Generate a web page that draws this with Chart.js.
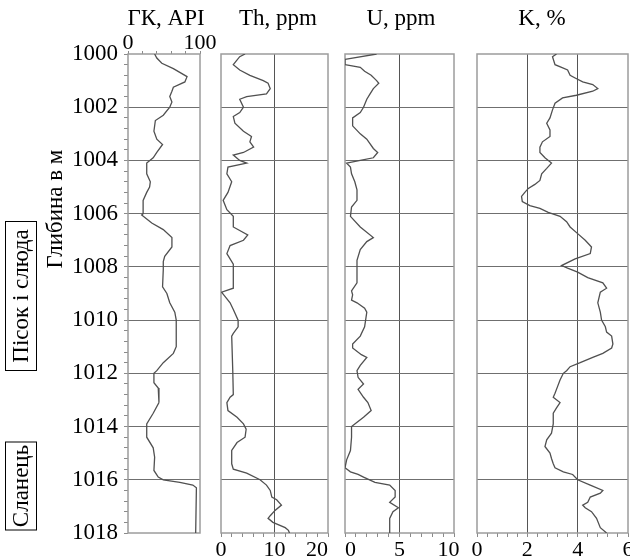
<!DOCTYPE html>
<html lang="uk">
<head>
<meta charset="utf-8">
<title>Каротажні діаграми</title>
<script src="https://cdn.jsdelivr.net/npm/chart.js@4.4.1/dist/chart.umd.min.js"></script>
<style>
  html, body { margin: 0; padding: 0; background: #fff; overflow: hidden; }
  #wrap { position: relative; width: 630px; height: 559px; overflow: hidden;
          font-family: "Liberation Serif", "Times New Roman", serif; color: #000; }
  #wrap canvas { position: absolute; left: 0; top: 0; }
  .head { position: absolute; top: 6px; font-size: 23px; line-height: 24px;
          white-space: nowrap; transform: translateX(-50%); }
  .vert { position: absolute; white-space: nowrap; text-align: center;
          transform: translate(-50%, -50%) rotate(-90deg); box-sizing: border-box; }
  .box { border: 1.5px solid #000; font-size: 23px; }
</style>
</head>
<body>
<div id="wrap">
  <canvas id="gk" width="630" height="559"></canvas>
  <canvas id="th" width="630" height="559"></canvas>
  <canvas id="u" width="630" height="559"></canvas>
  <canvas id="k" width="660" height="559"></canvas>

  <div class="head" style="left:166px">ГК, API</div>
  <div class="head" style="left:278px">Th, ppm</div>
  <div class="head" style="left:401px">U, ppm</div>
  <div class="head" style="left:542px">K, %</div>

  <div class="vert" style="left:55px; top:209px; font-size:23px; line-height:26px;">Глибина в м</div>
  <div class="vert box" style="left:21px; top:296px; width:150px; height:32px; line-height:29px;">Пісок і слюда</div>
  <div class="vert box" style="left:21px; top:486px; width:89px; height:32px; line-height:29px;">Сланець</div>
</div>

<script>
// Depth range of the log (m)
const depthMin = 1000;
const depthMax = 1018;
const depthLabelStep = 2;
const depthMinorStep = 0.4;

// Gamma ray, API
const gkDepth = [1000.0, 1000.15, 1000.35, 1000.55, 1000.85, 1001.05, 1001.25, 1001.4, 1001.6, 1001.8,
  1002.0, 1002.3, 1002.5, 1002.9, 1003.2, 1003.4, 1003.7, 1003.9, 1004.1, 1004.5,
  1004.8, 1005.0, 1005.2, 1005.5, 1006.0, 1006.05, 1006.35, 1006.6, 1006.9, 1007.25,
  1007.6, 1007.8, 1008.1, 1008.75, 1009.0, 1009.35, 1009.7, 1010.0, 1011.0, 1011.25,
  1011.6, 1011.9, 1012.0, 1012.35, 1012.55, 1013.1, 1013.5, 1013.9, 1014.4, 1014.8,
  1015.15, 1015.65, 1015.9, 1016.0, 1016.1, 1016.2, 1016.3, 1018.0];
const gkApi = [37, 40, 47, 63, 82, 79, 63, 61, 58, 61,
  58, 49, 38, 36, 40, 48, 40, 35, 26, 26,
  31, 30, 26, 21, 21, 19, 33, 49, 61, 61,
  51, 49, 49, 48, 54, 58, 65, 67, 67, 63,
  49, 40, 36, 36, 42, 43, 35, 26, 26, 35,
  37, 36, 42, 49, 72, 90, 95, 94];

// Thorium, ppm
const thDepth = [1000.0, 1000.1, 1000.25, 1000.4, 1000.6, 1000.8, 1001.0, 1001.1, 1001.3, 1001.5,
  1001.6, 1001.7, 1002.0, 1002.2, 1002.35, 1002.6, 1002.9, 1003.1, 1003.3, 1003.5,
  1003.7, 1003.8, 1004.0, 1004.1, 1004.25, 1004.5, 1004.8, 1005.2, 1005.5, 1005.85,
  1006.1, 1006.5, 1006.8, 1007.0, 1007.2, 1007.5, 1007.9, 1008.8, 1008.95, 1009.1,
  1009.35, 1009.6, 1010.0, 1010.25, 1010.5, 1010.6, 1011.9, 1012.8, 1012.9, 1013.1,
  1013.4, 1013.65, 1013.9, 1014.1, 1014.4, 1014.6, 1014.9, 1015.4, 1015.6, 1015.75,
  1016.0, 1016.2, 1016.4, 1016.65, 1016.75, 1016.95, 1017.15, 1017.35, 1017.45, 1017.6,
  1017.8, 1017.9, 1018.0];
const thPpm = [4.5, 3.5, 2.9, 2.3, 3.5, 5.4, 7.9, 8.8, 9.2, 8.5,
  4.8, 3.5, 4.2, 3.5, 2.3, 2.6, 4.2, 5.7, 5.4, 6.1,
  4.2, 2.3, 3.5, 4.8, 1.3, 1.1, 2.0, 1.3, 0.4, 1.1,
  2.3, 2.3, 5.0, 4.2, 1.7, 1.1, 2.3, 2.3, 0.1, 0.7,
  1.7, 2.3, 3.2, 3.2, 2.3, 2.0, 2.2, 2.3, 1.7, 1.1,
  1.3, 3.0, 4.2, 4.7, 4.5, 3.0, 2.0, 2.0, 2.3, 4.8,
  7.3, 8.5, 9.2, 9.5, 10.4, 11.3, 10.1, 9.2, 8.8, 9.7,
  12.0, 12.6, 12.8];

// Uranium, ppm
const uDepth = [1000.0, 1000.2, 1000.4, 1000.5, 1000.65, 1000.8, 1001.0, 1001.1, 1001.3, 1001.5,
  1001.7, 1002.0, 1002.2, 1002.4, 1002.7, 1003.0, 1003.2, 1003.55, 1003.7, 1003.9,
  1004.0, 1004.1, 1004.25, 1004.5, 1004.8, 1005.1, 1005.5, 1005.75, 1006.1, 1006.5,
  1006.9, 1007.05, 1007.35, 1007.75, 1008.6, 1008.9, 1009.05, 1009.25, 1009.35, 1009.55,
  1009.7, 1010.25, 1010.6, 1010.9, 1011.05, 1011.3, 1011.4, 1011.7, 1011.9, 1012.15,
  1012.4, 1012.6, 1012.9, 1013.1, 1013.4, 1013.65, 1013.9, 1014.0, 1014.4, 1014.9,
  1015.25, 1015.55, 1015.7, 1015.8, 1015.9, 1016.1, 1016.2, 1016.4, 1016.65, 1016.85,
  1017.05, 1017.2, 1017.45, 1018.0];
const uPpm = [2.9, 0.0, 0.0, 1.4, 1.8, 2.4, 2.9, 3.1, 2.6, 2.3,
  2.0, 1.7, 1.4, 0.7, 0.7, 1.4, 2.0, 2.6, 3.0, 2.6,
  1.4, 0.15, 0.5, 0.6, 0.9, 1.1, 1.1, 0.6, 0.5, 1.4,
  2.6, 2.0, 1.4, 1.1, 1.1, 0.6, 0.7, 0.6, 1.1, 1.8,
  2.0, 1.8, 1.4, 0.7, 0.7, 1.5, 2.0, 1.4, 1.1, 1.2,
  1.7, 1.2, 1.7, 2.1, 2.4, 1.7, 0.9, 0.6, 0.6, 0.5,
  0.15, 0.0, 0.5, 1.2, 1.7, 2.75, 4.1, 4.6, 4.6, 4.1,
  4.9, 4.4, 4.1, 4.1];

// Potassium, %
const kDepth = [1000.0, 1000.1, 1000.4, 1000.5, 1000.6, 1000.8, 1000.9, 1001.05, 1001.15, 1001.3,
  1001.4, 1001.55, 1001.65, 1001.85, 1002.1, 1002.4, 1002.6, 1002.85, 1003.1, 1003.3,
  1003.5, 1003.7, 1003.9, 1004.1, 1004.3, 1004.5, 1004.75, 1004.9, 1005.05, 1005.2,
  1005.35, 1005.55, 1005.7, 1005.8, 1005.95, 1006.1, 1006.3, 1006.5, 1006.75, 1007.0,
  1007.25, 1007.5, 1007.7, 1007.95, 1008.05, 1008.2, 1008.4, 1008.6, 1008.8, 1008.95,
  1009.35, 1009.7, 1010.0, 1010.25, 1010.45, 1010.6, 1010.9, 1011.05, 1011.25, 1011.4,
  1011.6, 1011.75, 1011.9, 1012.0, 1012.25, 1012.5, 1012.75, 1012.9, 1013.1, 1013.3,
  1013.5, 1013.9, 1014.25, 1014.5, 1014.75, 1015.0, 1015.2, 1015.4, 1015.55, 1015.7,
  1015.8, 1016.0, 1016.2, 1016.4, 1016.5, 1016.65, 1016.85, 1016.95, 1017.05, 1017.2,
  1017.45, 1017.8, 1018.0];
const kPct = [3.16, 3.0, 3.1, 3.36, 3.6, 3.7, 3.9, 4.2, 4.6, 4.8,
  4.6, 3.95, 3.4, 3.1, 3.0, 2.9, 2.77, 2.9, 2.9, 2.6,
  2.5, 2.5, 2.7, 2.96, 2.77, 2.57, 2.5, 2.3, 2.04, 1.9,
  1.77, 1.8, 2.1, 2.5, 2.83, 3.3, 3.56, 3.7, 4.0, 4.3,
  4.55, 4.5, 3.9, 3.36, 3.6, 4.0, 4.4, 5.0, 5.15, 4.9,
  4.8, 4.9, 4.95, 5.1, 5.15, 5.35, 5.4, 5.35, 5.0, 4.6,
  4.1, 3.7, 3.56, 3.43, 3.3, 3.2, 3.1, 3.03, 3.3, 3.16,
  3.03, 3.03, 2.96, 2.77, 2.7, 2.9, 2.96, 3.03, 3.1, 3.43,
  3.8, 4.0, 4.5, 5.0, 4.9, 4.5, 4.4, 4.2, 4.3, 4.55,
  4.75, 4.9, 5.15];

// Track definitions: x range, minor tick step, labelled step,
// and en-space nudges keeping neighbouring end labels apart
const tracks = [
  { id: 'gk', depth: gkDepth, values: gkApi, min: 0, max: 100, minor: 20, major: 100, axis: 'top', nudgeMin: 0, nudgeMax: 0 },
  { id: 'th', depth: thDepth, values: thPpm, min: 0, max: 20, minor: 2, major: 10, axis: 'bottom', nudgeMin: 0, nudgeMax: 2 },
  { id: 'u',  depth: uDepth,  values: uPpm,  min: 0, max: 10, minor: 1, major: 5, axis: 'bottom', nudgeMin: 1, nudgeMax: 1 },
  { id: 'k',  depth: kDepth,  values: kPct,  min: 0, max: 6,  minor: 0.4, major: 2, axis: 'bottom', nudgeMin: 0, nudgeMax: 0 }
];

// Plot-area boxes of each track on the page (px)
const plotTop = 54, plotBottom = 533, pageHeight = 559;
const trackBox = {
  gk: { left: 128, right: 200 },
  th: { left: 221, right: 328 },
  u:  { left: 345, right: 454 },
  k:  { left: 477, right: 628 }
};

Chart.defaults.font.family = '"Liberation Serif", "Times New Roman", serif';
Chart.defaults.color = '#000';

const EN = '\u2002';
const round = v => Math.round(v * 1000) / 1000;
const isMultiple = (v, step, base) => Math.abs(((v - base) / step) - Math.round((v - base) / step)) < 1e-6;

function stepTicks(min, max, step) {
  const out = [];
  const n = Math.round((max - min) / step);
  for (let i = 0; i <= n; i++) out.push({ value: round(min + i * step) });
  return out;
}

// Grey frame round each track
const framePlugin = {
  id: 'frame',
  beforeDatasetsDraw(chart) {
    const { ctx, chartArea: a } = chart;
    ctx.save();
    ctx.strokeStyle = '#9c9c9c';
    ctx.lineWidth = 1.5;
    ctx.strokeRect(a.left, a.top, a.right - a.left, a.bottom - a.top);
    ctx.restore();
  }
};

function buildTrack(t) {
  const canvas = document.getElementById(t.id);
  const box = trackBox[t.id];
  const isGk = t.axis === 'top';
  const xAxisH = isGk ? plotTop : pageHeight - plotBottom;

  const yScale = {
    type: 'linear',
    position: 'left',
    reverse: true,
    min: depthMin,
    max: depthMax,
    afterBuildTicks: s => { s.ticks = stepTicks(depthMin, depthMax, isGk ? depthMinorStep : depthLabelStep); },
    afterFit: s => { s.width = isGk ? box.left : 0; },
    border: { display: false },
    grid: {
      drawTicks: isGk,
      tickLength: 4,
      tickColor: '#8a8a8a',
      lineWidth: 1,
      color: c => {
        const v = c.tick ? c.tick.value : NaN;
        return (isMultiple(v, depthLabelStep, depthMin) && v > depthMin && v < depthMax) ? '#6f6f6f' : 'rgba(0,0,0,0)';
      }
    },
    ticks: {
      display: isGk,
      autoSkip: false,
      padding: 6,
      font: { size: 23 },
      callback: v => isMultiple(v, depthLabelStep, depthMin) ? String(Math.round(v)) : ''
    }
  };

  const xLabel = v => {
    if (!isMultiple(v, t.major, t.min)) return '';
    let s = String(round(v));
    if (v === t.min) s = EN.repeat(t.nudgeMin) + s;
    if (v === t.max) s = s + EN.repeat(t.nudgeMax);
    return s;
  };

  const xScale = {
    type: 'linear',
    position: t.axis,
    min: t.min,
    max: t.max,
    afterBuildTicks: s => { s.ticks = stepTicks(t.min, t.max, t.minor); },
    afterFit: s => { s.height = xAxisH; },
    border: { display: false },
    grid: {
      drawOnChartArea: !isGk,
      tickLength: isGk ? 3 : 4,
      tickColor: '#8a8a8a',
      lineWidth: 1,
      color: c => {
        const v = c.tick ? c.tick.value : NaN;
        return (isMultiple(v, t.major, t.min) && v > t.min && v < t.max) ? '#555' : 'rgba(0,0,0,0)';
      }
    },
    ticks: {
      autoSkip: false,
      maxRotation: 0,
      padding: isGk ? -5 : 0,
      font: { size: 22 },
      callback: xLabel
    }
  };

  return new Chart(canvas, {
    type: 'scatter',
    data: {
      datasets: [{
        data: t.depth.map((d, i) => ({ x: t.values[i], y: d })),
        showLine: true,
        borderColor: '#505050',
        borderWidth: 1.3,
        pointRadius: 0,
        pointHoverRadius: 0,
        tension: 0
      }]
    },
    options: {
      responsive: false,
      animation: false,
      events: [],
      layout: {
        padding: {
          left: isGk ? 0 : box.left,
          right: canvas.width - box.right,
          top: isGk ? 0 : plotTop,
          bottom: isGk ? pageHeight - plotBottom : 0
        }
      },
      plugins: { legend: { display: false }, tooltip: { enabled: false }, title: { display: false } },
      scales: { x: xScale, y: yScale }
    },
    plugins: [framePlugin]
  });
}

tracks.forEach(buildTrack);
</script>
</body>
</html>
